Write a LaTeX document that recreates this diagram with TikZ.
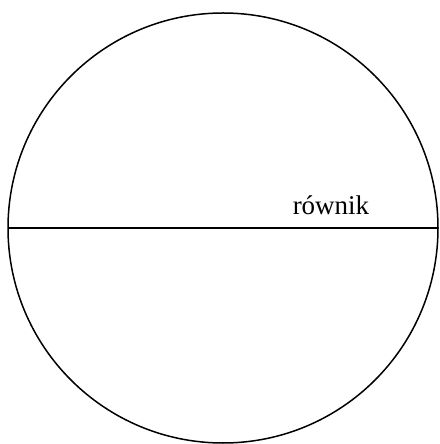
\documentclass[tikz,border=0pt]{standalone}
\usepackage{fontspec}
\setmainfont{Liberation Serif}
\begin{document}
\begin{tikzpicture}[x=1pt,y=1pt,line width=1.5pt]
\useasboundingbox (0,0) rectangle (439,444);
\coordinate (c) at (223,216);
\draw (c) circle[radius=215];
\coordinate (w) at (8,216);
\coordinate (e) at (438,216);
\draw (w) -- (e);
\node[anchor=base west,inner sep=0pt,font=\fontsize{27}{30}\selectfont] (lab) at (292,229) {równik};
\end{tikzpicture}
\end{document}
